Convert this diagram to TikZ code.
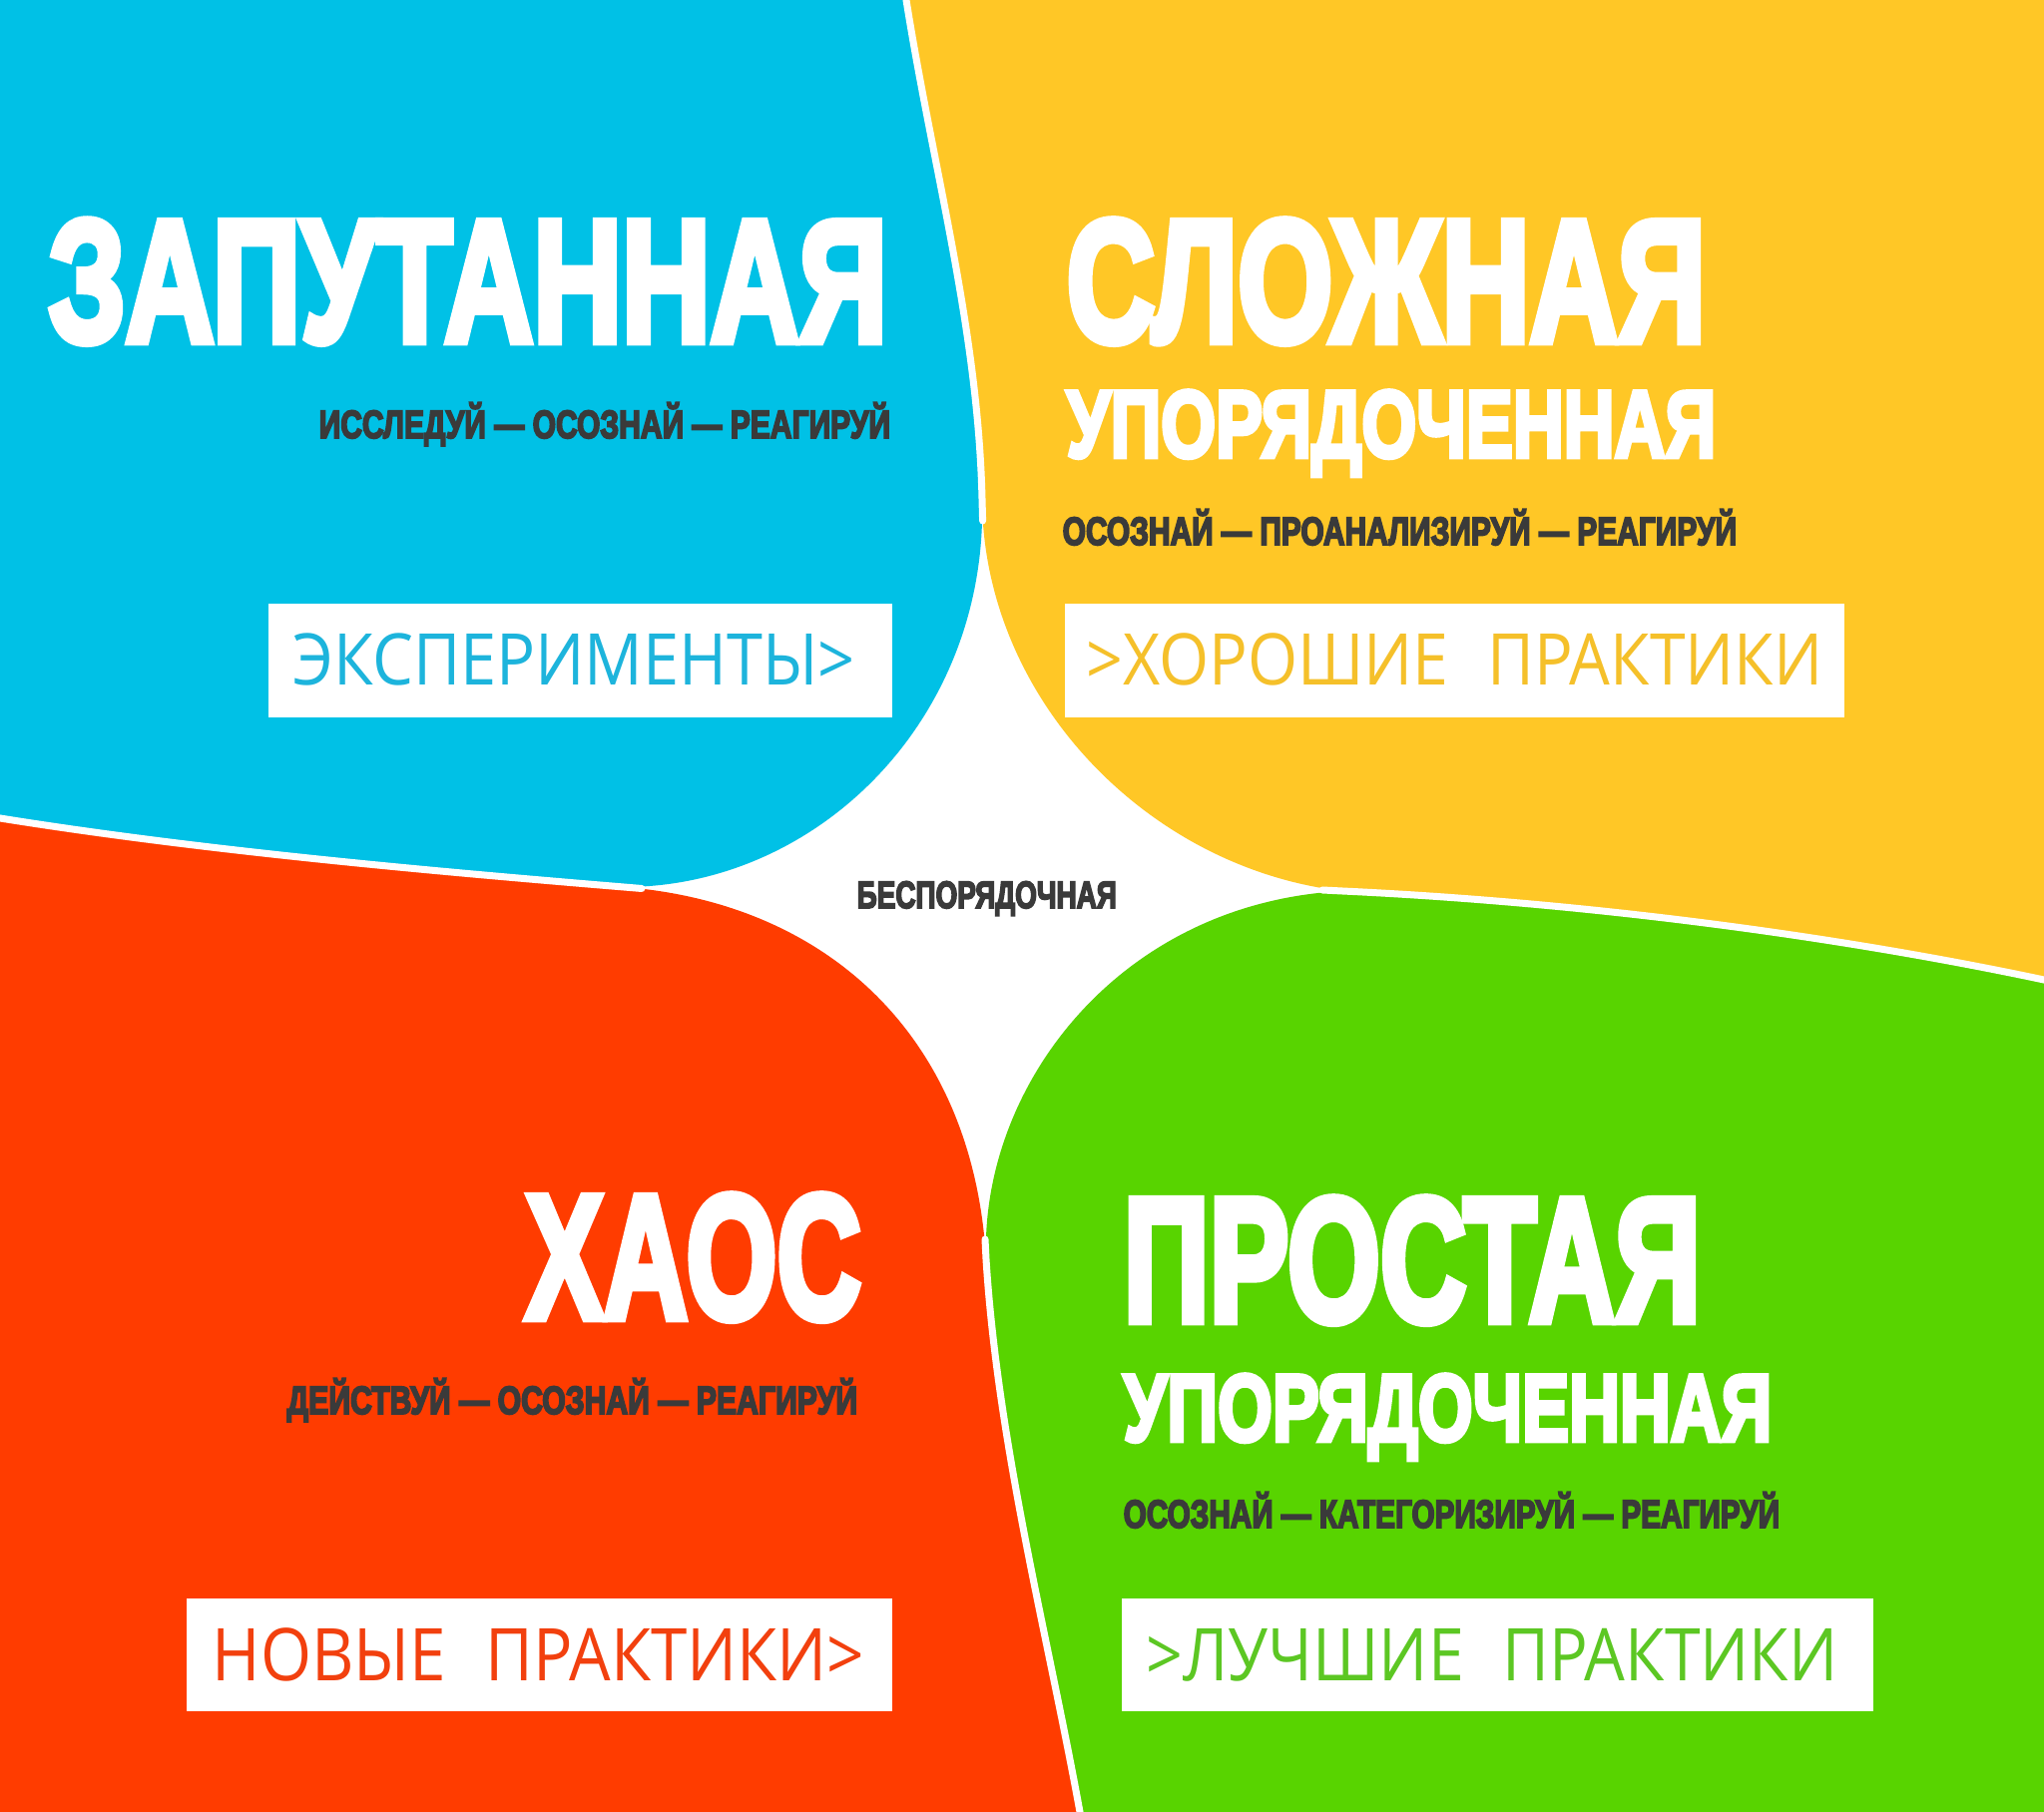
\documentclass[tikz,border=0pt]{standalone}
\usepackage{fontspec}
\usepackage{graphicx}
\newfontfamily\heavy{Liberation Sans}[BoldFeatures={FakeBold=5}]
\newfontfamily\thinf{Open Sans}
\definecolor{cblue}{HTML}{00C1E6}
\definecolor{cyellow}{HTML}{FFC726}
\definecolor{cred}{HTML}{FF3C00}
\definecolor{cgreen}{HTML}{58D400}
\definecolor{cdark}{HTML}{3A3A3A}
\definecolor{cbluet}{HTML}{1DB4DC}
\definecolor{cyellowt}{HTML}{F5C02A}
\definecolor{credt}{HTML}{F2400E}
\definecolor{cgreent}{HTML}{5CC723}
\newcommand\fitto[3]{\resizebox{#1}{#2}{\raisebox{0pt}[\fontcharht\font`\H][0pt]{#3}}}
\tikzset{
  ttl/.style={anchor=base west, inner sep=0pt, text=white, font=\heavy\bfseries},
  subt/.style={anchor=base west, inner sep=0pt, text=cdark, font=\heavy\bfseries},
  btxt/.style={anchor=base west, inner sep=0pt, font=\thinf},
  wbox/.style={anchor=north west, fill=white, draw=none, inner sep=0pt},
  sepline/.style={draw=white, line width=0.07cm, line cap=round},
}
\begin{document}
\begin{tikzpicture}[x=0.01cm,y=-0.01cm]
\useasboundingbox (0,0) rectangle (2048,1816);
\clip (0,0) rectangle (2048,1816);
\fill[white] (0,0) rectangle (2048,1816);

% blue blob (top left)
\fill[cblue] (-80,-80) -- (895,-80) -- (908,0)
  .. controls (935,170) and (980,330) .. (984,500)
  .. controls (990,720) and (820,889) .. (625,889)
  .. controls (420,872) and (200,852) .. (0,820)
  -- (-80,807) -- cycle;

% red blob (bottom left)
\fill[cred] (-80,807) -- (0,820)
  .. controls (200,852) and (420,872) .. (625,889)
  .. controls (830,905) and (975,1040) .. (988,1262)
  .. controls (1000,1450) and (1050,1640) .. (1082,1816)
  -- (1092,1871) -- (-80,1871) -- cycle;

% green blob (bottom right)
\fill[cgreen] (2130,1871) -- (1092,1871) -- (1082,1816)
  .. controls (1050,1640) and (1000,1450) .. (988,1262)
  .. controls (982,1090) and (1120,905) .. (1345,893)
  .. controls (1600,905) and (1850,940) .. (2048,982)
  -- (2130,1000) -- cycle;

% yellow blob (top right)
\fill[cyellow] (895,-80) -- (2130,-80) -- (2130,1000) -- (2048,982)
  .. controls (1850,940) and (1600,905) .. (1345,893)
  .. controls (1150,870) and (985,700) .. (984,500)
  .. controls (980,330) and (935,170) .. (908,0)
  -- cycle;

% white separating lines
\draw[sepline] (895,-80) -- (908,0) .. controls (935,170) and (980,330) .. (984,500) -- (984.6,522);
\draw[sepline] (643,890.5) -- (625,889) .. controls (420,872) and (200,852) .. (0,820) -- (-80,807);
\draw[sepline] (987,1242) -- (988,1262) .. controls (1000,1450) and (1050,1640) .. (1082,1816) -- (1092,1871);
\draw[sepline] (1325,892) -- (1345,893) .. controls (1600,905) and (1850,940) .. (2048,982) -- (2130,1000);

% white boxes
\node[wbox, minimum width=6.25cm, minimum height=1.14cm] (b1) at (268,604) {};
\node[wbox, minimum width=7.81cm, minimum height=1.14cm] (b2) at (1066,604) {};
\node[wbox, minimum width=7.07cm, minimum height=1.13cm] (b3) at (186,1601) {};
\node[wbox, minimum width=7.53cm, minimum height=1.13cm] (b4) at (1123,1601) {};

% top left
\node[ttl] (t1) at (48,342) {\fitto{8.40cm}{1.196cm}{ЗАПУТАННАЯ}};
\node[subt] (s1) at (319,439) {\fitto{5.72cm}{0.271cm}{ИССЛЕДУЙ — ОСОЗНАЙ — РЕАГИРУЙ}};
\node[btxt, text=cbluet] (x1) at (293,687) {\fitto{5.63cm}{0.51cm}{ЭКСПЕРИМЕНТЫ>}};

% top right
\node[ttl] (t2) at (1068,342) {\fitto{6.40cm}{1.196cm}{СЛОЖНАЯ}};
\node[ttl] (t2b) at (1068,458) {\fitto{6.50cm}{0.654cm}{УПОРЯДОЧЕННАЯ}};
\node[subt] (s2) at (1064,546) {\fitto{6.75cm}{0.271cm}{ОСОЗНАЙ — ПРОАНАЛИЗИРУЙ — РЕАГИРУЙ}};
\node[btxt, text=cyellowt] (x2) at (1088,687) {\fitto{7.37cm}{0.51cm}{>ХОРОШИЕ\hspace{0.6em}ПРАКТИКИ}};

% bottom left
\node[ttl] (t3) at (526,1321) {\fitto{3.36cm}{1.215cm}{ХАОС}};
\node[subt] (s3) at (287,1417) {\fitto{5.71cm}{0.271cm}{ДЕЙСТВУЙ — ОСОЗНАЙ — РЕАГИРУЙ}};
\node[btxt, text=credt] (x3) at (212,1684) {\fitto{6.53cm}{0.52cm}{НОВЫЕ\hspace{0.6em}ПРАКТИКИ>}};

% bottom right
\node[ttl] (t4) at (1125,1324) {\fitto{5.78cm}{1.215cm}{ПРОСТАЯ}};
\node[ttl] (t4b) at (1125,1444) {\fitto{6.49cm}{0.654cm}{УПОРЯДОЧЕННАЯ}};
\node[subt] (s4) at (1125,1531) {\fitto{6.57cm}{0.271cm}{ОСОЗНАЙ — КАТЕГОРИЗИРУЙ — РЕАГИРУЙ}};
\node[btxt, text=cgreent] (x4) at (1148,1684) {\fitto{6.92cm}{0.52cm}{>ЛУЧШИЕ\hspace{0.6em}ПРАКТИКИ}};

% centre
\node[subt] (c) at (858,910) {\fitto{2.60cm}{0.262cm}{БЕСПОРЯДОЧНАЯ}};
\end{tikzpicture}
\end{document}
